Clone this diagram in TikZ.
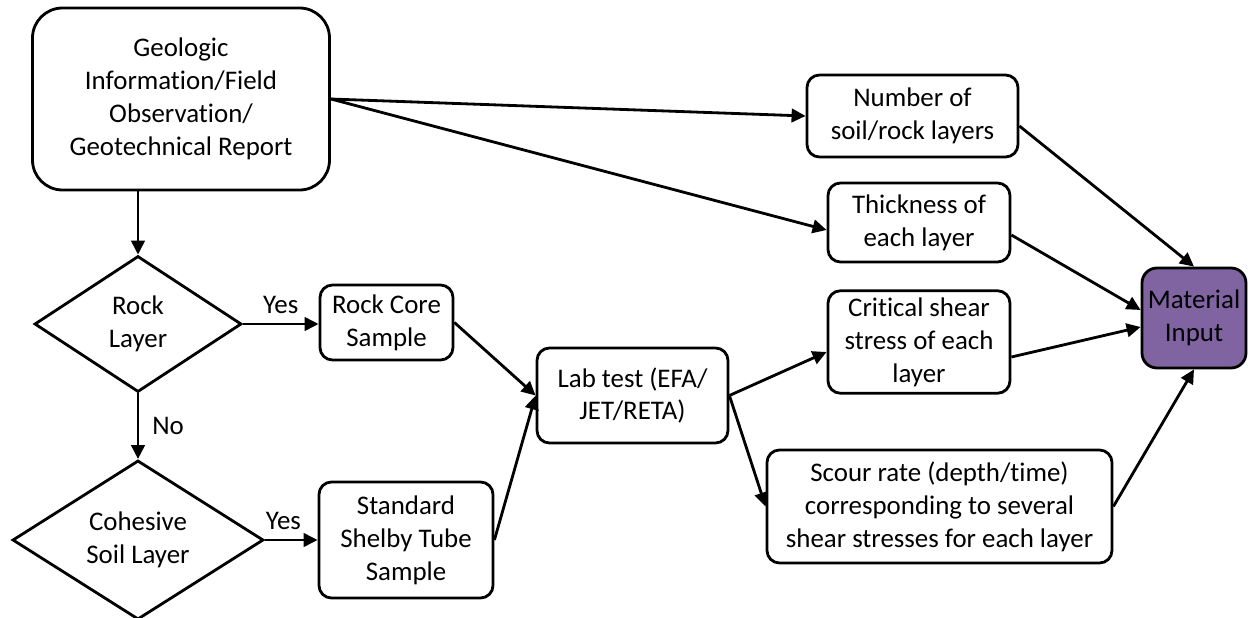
\documentclass[tikz,border=0pt]{standalone}
\usepackage{fontspec}
\setmainfont{Carlito}[Ligatures={NoCommon}]
\usepackage{tikz}
\usetikzlibrary{arrows.meta,shapes.geometric,calc}
\definecolor{matpurple}{HTML}{8064A2}
\newcommand{\flowfont}{\fontsize{15.3}{18.7}\selectfont}

\begin{document}
\begin{tikzpicture}[>={Triangle[length=2.8mm,width=2.7mm]},
  box/.style={draw, line width=1.6pt, rounded corners=0.25cm, align=center,
    inner sep=0pt, font=\flowfont},
  decision/.style={draw, diamond, line width=1.6pt, align=center,
    inner sep=0pt, font=\flowfont},
  flow/.style={->, line width=1.6pt},
  lbl/.style={font=\flowfont}]
  \useasboundingbox (0,0) rectangle (24.96,12.34);

  % --- Source of information ---
  \node[box, rounded corners=0.6cm, minimum width=5.94cm, minimum height=3.64cm]
    (geo) at (3.62,10.36)
    {Geologic\\Information/Field\\Observation/\\Geotechnical Report};

  % --- Decisions (left column) ---
  \node[decision, minimum width=4.14cm, minimum height=2.72cm] (rock) at (2.76,5.86)
    {Rock\\Layer};
  \node[decision, minimum width=5.02cm, minimum height=2.96cm] (cohesive) at (2.76,1.54)
    {Cohesive\\Soil Layer};

  % --- Samples and lab test ---
  \node[box, minimum width=2.66cm, minimum height=1.5cm] (rockcore) at (7.73,5.89)
    {Rock Core\\Sample};
  \node[box, minimum width=3.48cm, minimum height=2.32cm] (shelby) at (8.12,1.54)
    {Standard\\Shelby Tube\\Sample};
  \node[box, minimum width=3.82cm, minimum height=1.9cm] (lab) at (12.65,4.43)
    {Lab test (EFA/\\JET/RETA)};

  % --- Parameters ---
  \node[box, minimum width=4.22cm, minimum height=1.64cm] (number) at (18.25,10.02)
    {Number of\\soil/rock layers};
  \node[box, minimum width=3.64cm, minimum height=1.58cm] (thickness) at (18.38,7.89)
    {Thickness of\\each layer};
  \node[box, minimum width=3.64cm, minimum height=2.05cm] (critical) at (18.38,5.5)
    {Critical shear\\stress of each\\layer};
  \node[box, minimum width=6.9cm, minimum height=2.26cm] (scour) at (18.79,2.21)
    {Scour rate (depth/time)\\corresponding to several\\shear stresses for each layer};

  % --- Result ---
  \node[box, fill=matpurple, rounded corners=0.3cm, minimum width=2.08cm,
    minimum height=2.0cm] (material) at (23.88,5.98) {Material\\Input};

  % --- Connectors ---
  \draw[flow] (geo.east) -- (number.west);
  \draw[flow] (geo.east) -- ([yshift=-0.15cm]thickness.west);
  \draw[flow] (geo.south -| rock.north) -- (rock.north);
  \draw[flow] (rock.east) -- (rock.east -| rockcore.west)
    node[lbl, midway, above=2pt] (yesrock) {Yes};
  \draw[flow] (rock.south) -- (cohesive.north)
    node[lbl, midway, right=4pt] (norock) {No};
  \draw[flow] (cohesive.east) -- (cohesive.east -| shelby.west)
    node[lbl, pos=0.35, above=2pt] (yescoh) {Yes};
  \draw[flow] (rockcore.east) -- (lab.west);
  \draw[flow] (shelby.east) -- (lab.west);
  \draw[flow] (lab.east) -- ([yshift=-0.2cm]critical.west);
  \draw[flow] (lab.east) -- (scour.west);
  \draw[flow] ([yshift=-0.2cm]number.east) -- (material.north);
  \draw[flow] ([yshift=-0.25cm]thickness.east) -- ([yshift=0.16cm]material.west);
  \draw[flow] ([yshift=-0.3cm]critical.east) -- ([yshift=-0.18cm]material.west);
  \draw[flow] (scour.east) -- (material.south);
\end{tikzpicture}
\end{document}
